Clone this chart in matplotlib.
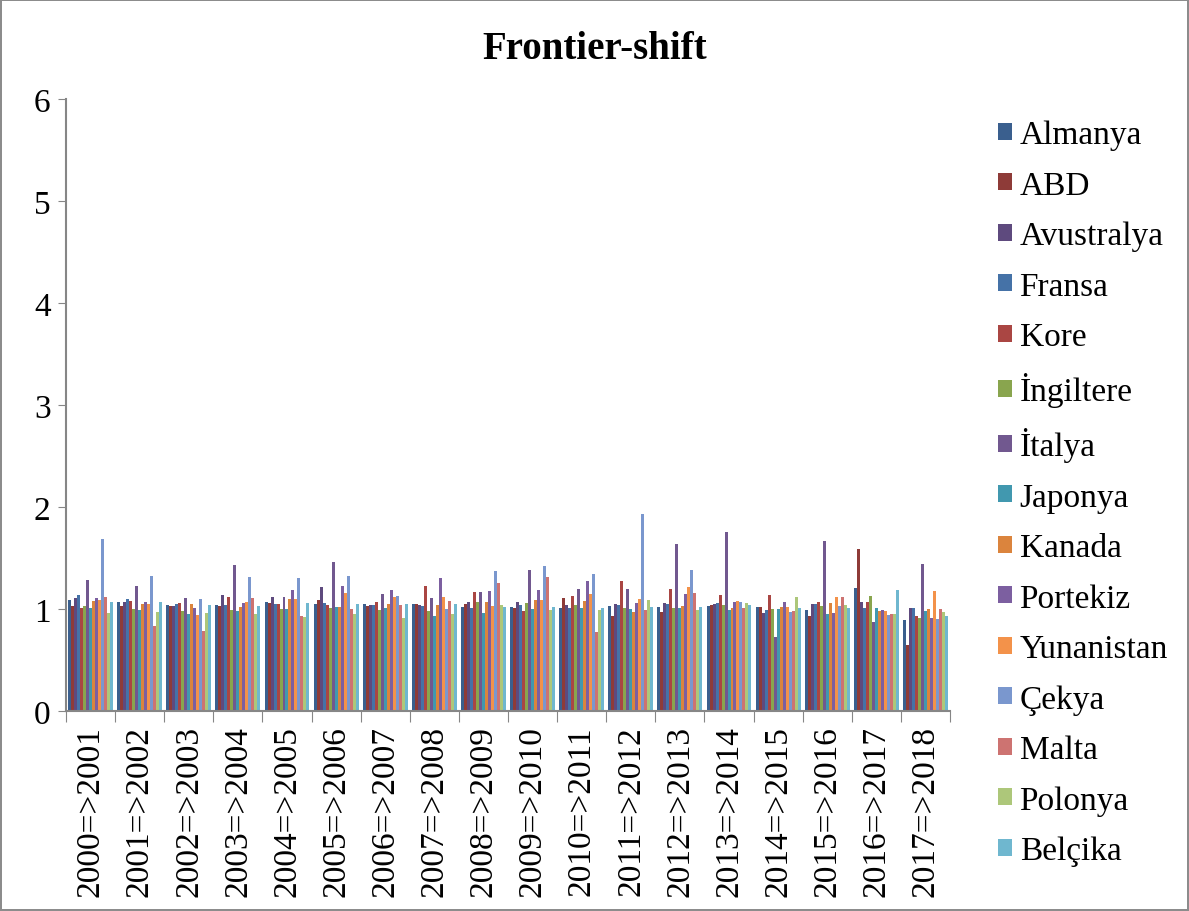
import numpy as np
import matplotlib
matplotlib.use("Agg")
import matplotlib.pyplot as plt

plt.rcParams['font.family'] = ['Liberation Serif', 'DejaVu Serif']

# categories
periods = ["2000=>2001", "2001=>2002", "2002=>2003", "2003=>2004", "2004=>2005",
           "2005=>2006", "2006=>2007", "2007=>2008", "2008=>2009", "2009=>2010",
           "2010=>2011", "2011=>2012", "2012=>2013", "2013=>2014", "2014=>2015",
           "2015=>2016", "2016=>2017", "2017=>2018"]

countries = ["Almanya", "ABD", "Avustralya", "Fransa", "Kore", "İngiltere", "İtalya",
             "Japonya", "Kanada", "Portekiz", "Yunanistan", "Çekya", "Malta",
             "Polonya", "Belçika"]

colors = ["#3A5F8E", "#8E3B38", "#5E4A7E", "#4572A7", "#AA4643", "#89A54E", "#71588F",
          "#4198AF", "#DB843D", "#7C5FA0", "#F3924A", "#7A97CE", "#CD7371",
          "#ADC77A", "#6FB7CF"]

# values per period (order = countries)
v2001 = [1.088, 1.030, 1.110, 1.134, 1.013, 1.026, 1.284, 1.006, 1.078, 1.105, 1.088, 1.683, 1.114, 0.960, 1.065]
v2002 = [1.069, 1.030, 1.069, 1.095, 1.082, 1.003, 1.229, 0.993, 1.046, 1.065, 1.049, 1.320, 0.833, 0.970, 1.065]
v2003 = [1.036, 1.033, 1.033, 1.049, 1.059, 0.984, 1.105, 0.948, 1.049, 1.013, 0.944, 1.098, 0.784, 0.964, 1.039]
v2004 = [1.036, 1.030, 1.137, 1.042, 1.118, 0.990, 1.428, 0.980, 1.020, 1.062, 1.072, 1.310, 1.111, 0.948, 1.033]
v2005 = [1.065, 1.056, 1.114, 1.049, 1.049, 0.997, 1.114, 1.000, 1.095, 1.183, 1.098, 1.300, 0.928, 0.920, 1.059]
v2006 = [1.049, 1.092, 1.212, 1.059, 1.039, 1.010, 1.458, 1.016, 1.023, 1.222, 1.157, 1.327, 1.003, 0.951, 1.046]
v2007 = [1.046, 1.030, 1.039, 1.036, 1.072, 0.990, 1.147, 1.006, 1.049, 1.190, 1.114, 1.124, 1.039, 0.915, 1.046]
v2008 = [1.052, 1.046, 1.042, 1.026, 1.222, 0.980, 1.111, 0.931, 1.039, 1.307, 1.118, 1.000, 1.082, 0.951, 1.049]
v2009 = [1.020, 1.049, 1.072, 1.010, 1.163, 1.072, 1.163, 0.958, 1.065, 1.176, 1.033, 1.376, 1.255, 1.036, 1.016]
v2010 = [1.020, 1.010, 1.072, 1.039, 0.984, 1.056, 1.382, 1.000, 1.085, 1.183, 1.088, 1.425, 1.317, 0.987, 1.023]
v2011 = [1.013, 1.111, 1.036, 1.010, 1.124, 1.039, 1.196, 1.006, 1.078, 1.271, 1.147, 1.340, 0.771, 0.990, 1.010]
v2012 = [1.026, 0.931, 1.046, 1.036, 1.271, 1.013, 1.196, 1.003, 0.970, 1.059, 1.095, 1.931, 0.990, 1.088, 1.016]
v2013 = [1.016, 0.967, 1.056, 1.049, 1.196, 1.006, 1.634, 1.010, 1.033, 1.144, 1.212, 1.379, 1.154, 0.990, 1.020]
v2014 = [1.030, 1.042, 1.049, 1.059, 1.137, 1.039, 1.755, 0.990, 1.013, 1.069, 1.075, 1.072, 1.013, 1.056, 1.036]
v2015 = [1.016, 1.023, 0.958, 0.987, 1.134, 0.997, 0.722, 1.000, 1.020, 1.069, 1.020, 0.967, 0.984, 1.121, 1.010]
v2016 = [0.987, 0.931, 1.046, 1.052, 1.072, 1.029, 1.670, 0.954, 1.056, 0.961, 1.114, 1.029, 1.114, 1.039, 1.010]
v2017 = [1.206, 1.585, 1.072, 1.010, 1.065, 1.127, 0.869, 1.013, 0.977, 0.987, 0.984, 0.938, 0.948, 0.951, 1.186]
v2018 = [0.892, 0.647, 1.006, 1.006, 0.928, 0.912, 1.444, 0.984, 0.997, 0.908, 1.176, 0.902, 0.997, 0.970, 0.928]

values = np.array([v2001, v2002, v2003, v2004, v2005, v2006, v2007, v2008, v2009,
                   v2010, v2011, v2012, v2013, v2014, v2015, v2016, v2017, v2018])

fig = plt.figure(figsize=(11.89, 9.12), dpi=100, linewidth=1.5, edgecolor='#8C8C8C')
ax = fig.add_axes([0.0555, 0.2193, 0.7435, 0.6711])

n = len(countries)
x = np.arange(len(periods))
span = 0.915
w = span / n
for i in range(n):
    ax.bar(x - span / 2 + w * (i + 0.5), values[:, i], width=w, color=colors[i],
           label=countries[i], linewidth=0)

ax.set_xlim(-0.5, len(periods) - 0.5)
ax.set_ylim(0, 6)
ax.set_yticks(range(7))
ax.tick_params(axis='y', labelsize=24, length=6, color='#868686', pad=5)

ax.set_xticks(np.arange(len(periods) + 1) - 0.5)
ax.set_xticklabels([])
ax.set_xticks(x, minor=True)
ax.set_xticklabels(periods, minor=True, rotation=90, fontsize=24)
ax.tick_params(axis='x', which='major', length=8, color='#868686')
ax.tick_params(axis='x', which='minor', length=0, pad=10)

for s in ['top', 'right']:
    ax.spines[s].set_visible(False)
for s in ['left', 'bottom']:
    ax.spines[s].set_color('#868686')
    ax.spines[s].set_linewidth(1.5)

fig.text(0.5, 0.946, "Frontier-shift", ha='center', va='center', fontsize=28,
         fontweight='bold')

fig.legend(loc='upper left', bbox_to_anchor=(0.825, 0.886), frameon=False,
           fontsize=24, handlelength=0.42, handleheight=0.42, handletextpad=0.24,
           labelspacing=0.6, borderpad=0)

fig.savefig("out.png", dpi=100)
